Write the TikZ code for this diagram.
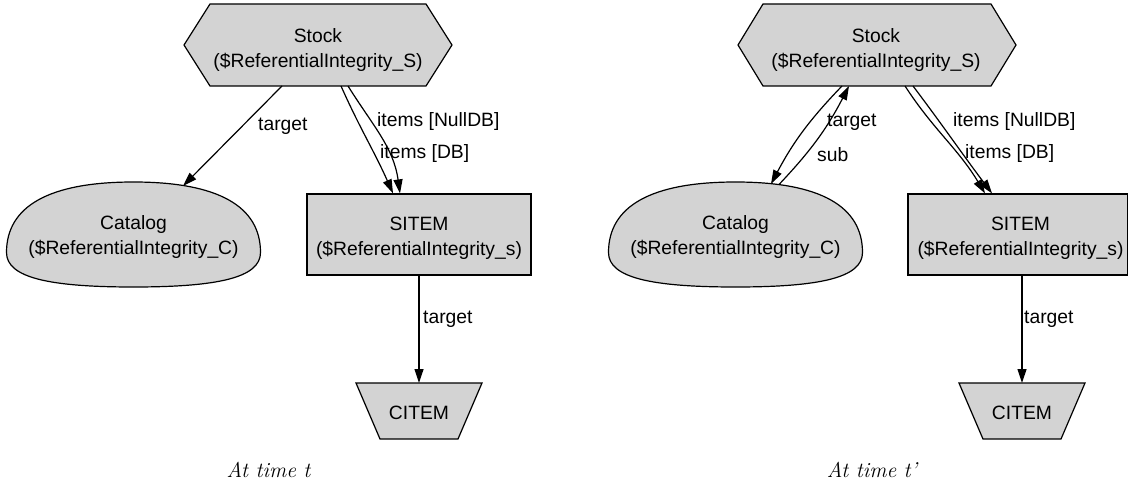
\documentclass[tikz,border=0pt]{standalone}
\usepackage{fontspec}
\setsansfont{Liberation Sans}
\usetikzlibrary{arrows.meta}
\definecolor{nodegray}{HTML}{D3D3D3}
\begin{document}
\begin{tikzpicture}[x=1pt,y=-1pt,
  holder/.style={draw=none,inner sep=0pt,outer sep=0pt,rectangle},
  shp/.style={draw=black,fill=nodegray,line width=1.2pt,line join=miter},
  lbl/.style={font=\sffamily\fontsize{19.3}{25}\selectfont,align=center,inner sep=0pt},
  elbl/.style={font=\sffamily\fontsize{19.3}{25}\selectfont,inner sep=0pt,anchor=base west},
  arr/.style={line width=1.2pt,-{Triangle[length=14pt,width=9pt]}},
  captext/.style={font=\fontsize{21.5}{26}\selectfont\itshape,inner sep=0pt,anchor=base}]
\useasboundingbox (0,0) rectangle (1128,484);

% ---------------- left diagram ----------------
\node[holder,minimum width=268pt,minimum height=82pt] (stockL) at (318,45) {};
\begin{scope}[shift={(stockL.center)}]
  \draw[shp] (-134,0) -- (-108,-41) -- (108,-41) -- (134,0) -- (108,41) -- (-108,41) -- cycle;
\end{scope}
\node[lbl] (stockLt) at (318,49.6) {Stock\\(\$ReferentialIntegrity\_S)};

\node[holder,minimum width=254pt,minimum height=105pt] (catL) at (133.5,234.5) {};
\begin{scope}[shift={(catL.center)}]
  \draw[shp] (0,-52.5) .. controls (85,-52.5) and (127,-28) .. (127,18)
    .. controls (127,43) and (85,52.5) .. (0,52.5)
    .. controls (-85,52.5) and (-127,43) .. (-127,18)
    .. controls (-127,-28) and (-85,-52.5) .. (0,-52.5) -- cycle;
\end{scope}
\node[lbl] (catLt) at (133.5,237.2) {Catalog\\(\$ReferentialIntegrity\_C)};

\node[shp,rectangle,inner sep=0pt,minimum width=224pt,minimum height=81pt] (sitL) at (419,234.5) {};
\node[lbl] (sitLt) at (419,238.6) {SITEM\\(\$ReferentialIntegrity\_s)};

\node[holder,minimum width=126pt,minimum height=56pt] (citeL) at (419,411) {};
\begin{scope}[shift={(citeL.center)}]
  \draw[shp] (-63,-28) -- (63,-28) -- (39,28) -- (-39,28) -- cycle;
\end{scope}
\node[lbl] (citeLt) at (419,413) {CITEM};

\draw[arr] ([xshift=-36pt]stockL.south) -- ([shift={(49.5,-48.5)}]catL.center);
\draw[arr] ([xshift=23pt]stockL.south) to[out=-66,in=114] ([xshift=-26pt]sitL.north);
\draw[arr] ([xshift=30pt]stockL.south) to[out=-58,in=98] ([xshift=-19pt]sitL.north);
\draw[arr] (sitL.south) -- (citeL.north);

\node[elbl] (tgtL1) at (258,131) {target};
\node[elbl] (nullL) at (377,127) {items [NullDB]};
\node[elbl] (dbL) at (380,159) {items [DB]};
\node[elbl] (tgtL2) at (423,323) {target};

\node[captext] (capL) at (268.5,477) {At time t};

% ---------------- right diagram ----------------
\node[holder,minimum width=278pt,minimum height=82pt] (stockR) at (877,45) {};
\begin{scope}[shift={(stockR.center)}]
  \draw[shp] (-139,0) -- (-114,-41) -- (114,-41) -- (139,0) -- (114,41) -- (-114,41) -- cycle;
\end{scope}
\node[lbl] (stockRt) at (876,49.6) {Stock\\(\$ReferentialIntegrity\_S)};

\node[holder,minimum width=254pt,minimum height=105pt] (catR) at (735.5,234.5) {};
\begin{scope}[shift={(catR.center)}]
  \draw[shp] (0,-52.5) .. controls (85,-52.5) and (127,-28) .. (127,18)
    .. controls (127,43) and (85,52.5) .. (0,52.5)
    .. controls (-85,52.5) and (-127,43) .. (-127,18)
    .. controls (-127,-28) and (-85,-52.5) .. (0,-52.5) -- cycle;
\end{scope}
\node[lbl] (catRt) at (735.5,237.2) {Catalog\\(\$ReferentialIntegrity\_C)};

\node[shp,rectangle,inner sep=0pt,minimum width=219.4pt,minimum height=81pt] (sitR) at (1017.7,234.5) {};
\node[lbl] (sitRt) at (1020.5,238.6) {SITEM\\(\$ReferentialIntegrity\_s)};

\node[holder,minimum width=126pt,minimum height=56pt] (citeR) at (1022,411) {};
\begin{scope}[shift={(citeR.center)}]
  \draw[shp] (-63,-28) -- (63,-28) -- (39,28) -- (-39,28) -- cycle;
\end{scope}
\node[lbl] (citeRt) at (1022,413) {CITEM};

\draw[arr] ([xshift=-35pt]stockR.south) to[bend right=8] ([shift={(35.5,-50.5)}]catR.center);
\draw[arr] ([shift={(43.5,-50)}]catR.center) to[bend right=8] ([xshift=-28pt]stockR.south);
\draw[arr] ([xshift=28pt]stockR.south) to[out=-57,in=121] ([xshift=-32.7pt]sitR.north);
\draw[arr] ([xshift=36pt]stockR.south) to[out=-53,in=127] ([xshift=-25.7pt]sitR.north);
\draw[arr] ([xshift=4.3pt]sitR.south) -- (citeR.north);

\node[elbl] (tgtR1) at (827,126.5) {target};
\node[elbl] (subR) at (817,162) {sub};
\node[elbl] (nullR) at (953,127) {items [NullDB]};
\node[elbl] (dbR) at (965,159) {items [DB]};
\node[elbl] (tgtR2) at (1024,323) {target};

\node[captext] (capR) at (872,477) {At time t'};
\end{tikzpicture}
\end{document}
